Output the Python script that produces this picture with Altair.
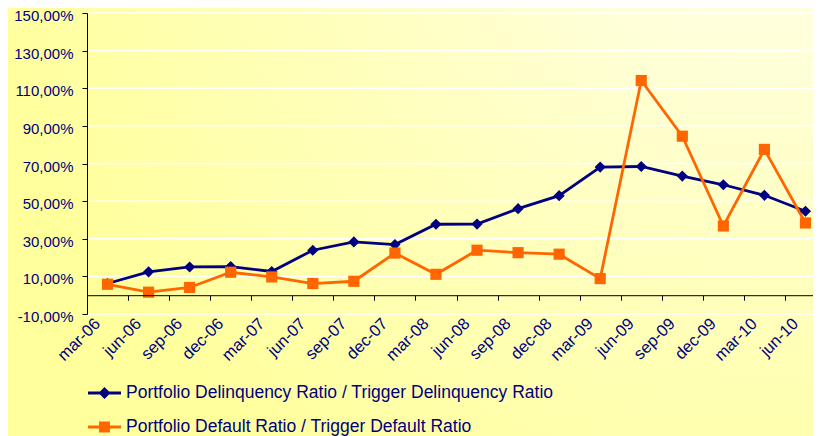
import altair as alt
import pandas as pd

quarters = ["mar-06", "jun-06", "sep-06", "dec-06", "mar-07", "jun-07", "sep-07", "dec-07",
            "mar-08", "jun-08", "sep-08", "dec-08", "mar-09", "jun-09", "sep-09", "dec-09",
            "mar-10", "jun-10"]
delinquency = [6.2, 12.4, 15.0, 15.2, 12.6, 23.9, 28.3, 26.9, 37.7, 37.8, 46.0, 52.9,
               68.1, 68.4, 63.3, 58.7, 53.1, 44.6]
default = [5.8, 1.6, 4.1, 12.2, 9.7, 6.2, 7.4, 22.4, 11.1, 23.9, 22.6, 21.8,
           8.8, 114.1, 84.5, 36.8, 77.5, 38.4]
series_names = ["Portfolio Delinquency Ratio / Trigger Delinquency Ratio",
                "Portfolio Default Ratio / Trigger Default Ratio"]
y_ticks = [-10, 10, 30, 50, 70, 90, 110, 130, 150]

colors = ["#000080", "#ff6600"]
FONT = "Liberation Sans"

rows = []
for i, q in enumerate(quarters):
    rows.append({"quarter": q, "idx": i, "series": series_names[0], "value": delinquency[i]})
    rows.append({"quarter": q, "idx": i, "series": series_names[1], "value": default[i]})
df = pd.DataFrame(rows)
grid_df = pd.DataFrame({"value": y_ticks})

W, H = 726, 301
TOP = 5
SVG_H = 428
ZERO_OFFSET = -(H * 10 / 160)

x_enc = alt.X("quarter:N", sort=quarters,
              scale=alt.Scale(type="band", domain=quarters, range=[0, 739],
                              paddingInner=0, paddingOuter=0),
              axis=alt.Axis(title=None, labelAngle=-45, tickBand="extent", tickSize=5,
                            tickColor="black", domainColor="black", offset=ZERO_OFFSET,
                            labelPadding=15, labelOffset=-16, labelFont=FONT, labelFontSize=16.5,
                            labelColor="#000080", grid=False, zindex=1))
y_scale = alt.Scale(domain=[-10, 150], nice=False, zero=False)
y_axis = alt.Axis(title=None, values=y_ticks,
                  labelExpr="(datum.value < 0 ? '-' : '') + replace(format(abs(datum.value), '.2f'), '.', ',') + '%'",
                  grid=False,
                  domainColor="black", tickColor="black", tickSize=5,
                  labelPadding=9, labelOffset=2.5, labelFont=FONT, labelFontSize=15,
                  labelColor="#000080", zindex=1)
y_enc = alt.Y("value:Q", scale=y_scale, axis=y_axis)

color_scale = alt.Scale(domain=series_names, range=colors)

base = alt.Chart(df)

bg = alt.Chart(pd.DataFrame({"a": [0]})).mark_rect(
    fill=alt.RadialGradient(
        gradient="radial",
        stops=[alt.GradientStop(color="#fffff6", offset=0),
               alt.GradientStop(color="#ffffc4", offset=0.5),
               alt.GradientStop(color="#ffff9c", offset=1)],
        x1=0.93, y1=0.0, x2=0.93, y2=0.0, r1=0, r2=1.0),
).encode(x=alt.value(-79), x2=alt.value(W), y=alt.value(-TOP), y2=alt.value(SVG_H - TOP))

grid = alt.Chart(grid_df).mark_rule(color="white", strokeWidth=1.3).encode(y=y_enc)

lines = base.mark_line(strokeWidth=2.8).encode(
    x=x_enc, y=y_enc, order=alt.Order("idx:Q"),
    color=alt.Color("series:N", scale=color_scale, legend=None))

points = base.mark_point(filled=True, opacity=1, size=125).encode(
    x=x_enc, y=y_enc,
    color=alt.Color("series:N", scale=color_scale, legend=None),
    shape=alt.Shape("series:N", scale=alt.Scale(domain=series_names, range=["diamond", "square"]),
                    legend=None))

diamond_path = ("M-1.27,-0.115L1.27,-0.115L1.27,0.115L-1.27,0.115Z "
                "M0,-0.46L0.46,0L0,0.46L-0.46,0Z")
square_path = ("M-1.27,-0.115L1.27,-0.115L1.27,0.115L-1.27,0.115Z "
               "M-0.42,-0.42L0.42,-0.42L0.42,0.42L-0.42,0.42Z")

leg = alt.Legend(title=None, orient="none", legendX=4.5, legendY=367, direction="vertical",
                 symbolSize=676, symbolStrokeWidth=0, symbolOpacity=1, labelOffset=8.5,
                 labelFont=FONT, labelFontSize=17.5, labelColor="#000080", rowPadding=12,
                 padding=0, labelLimit=700)

legend_layer = base.mark_point(filled=True, opacity=1, size=676).encode(
    x=x_enc, y=y_enc,
    color=alt.Color("series:N", scale=color_scale, legend=leg),
    shape=alt.Shape("series:N", scale=alt.Scale(domain=series_names, range=[diamond_path, square_path]),
                    legend=leg),
).transform_filter("false")

chart = alt.layer(bg, grid, lines, points, legend_layer).resolve_scale(
    color="independent", shape="independent"
).properties(
    width=W, height=H,
    autosize=alt.AutoSizeParams(type="none"),
    padding={"left": 79, "top": TOP, "right": 0, "bottom": SVG_H - TOP - H},
    background="#ffff9c",
).configure_view(stroke=None)

chart.save("out.html", embed_options={"renderer": "svg", "actions": False})
